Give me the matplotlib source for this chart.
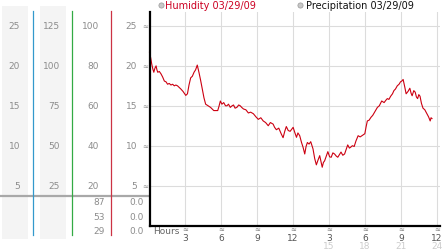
import matplotlib
matplotlib.use("Agg")
import matplotlib.pyplot as plt
from matplotlib import transforms

# ---- data (humidity trace, hours since midnight) ----
hours = [0.00, 0.10, 0.19, 0.28, 0.36, 0.45, 0.55, 0.62, 0.69, 0.82, 0.96, 1.10, 1.24,
         1.38, 1.51, 1.65, 1.79, 1.93, 2.07, 2.20, 2.34, 2.48, 2.62, 2.80, 3.03, 3.17,
         3.30, 3.44, 3.58, 3.72, 3.85, 3.99, 4.13, 4.27, 4.41, 4.55, 4.69, 4.90, 5.10,
         5.37, 5.55, 5.70, 5.80, 5.92, 6.05, 6.20, 6.35, 6.47, 6.60, 6.75, 6.90, 7.02,
         7.15, 7.30, 7.45, 7.58, 7.70, 7.85, 8.05, 8.26, 8.45, 8.68, 8.90, 9.09, 9.30,
         9.50, 9.70, 9.92, 10.10, 10.33, 10.45, 10.60, 10.80, 11.00, 11.16, 11.30, 11.43,
         11.59, 11.75, 12.00, 12.15, 12.28, 12.40, 12.55, 12.70, 12.83, 12.97, 13.08,
         13.19, 13.33, 13.47, 13.66, 13.80, 13.94, 14.08, 14.22, 14.43, 14.53, 14.63,
         14.77, 14.90, 15.05, 15.18, 15.32, 15.46, 15.60, 15.73, 15.87, 16.00, 16.15,
         16.30, 16.45, 16.56, 16.70, 16.80, 16.95, 17.10, 17.25, 17.43, 17.60, 17.80,
         17.99, 18.10, 18.20, 18.35, 18.50, 18.65, 18.77, 18.90, 19.04, 19.20, 19.40,
         19.60, 19.75, 19.87, 20.00, 20.15, 20.30, 20.42, 20.55, 20.70, 20.85, 20.97,
         21.08, 21.19, 21.32, 21.44, 21.60, 21.75, 21.85, 21.94, 22.08, 22.20, 22.30,
         22.40, 22.50, 22.60, 22.72, 22.85, 23.00, 23.18, 23.32, 23.45, 23.52, 23.60]
humidity = [21.7, 21.0, 20.2, 19.6, 19.2, 19.7, 20.0, 19.5, 19.2, 19.3, 19.0, 18.6, 18.1,
            18.0, 17.7, 17.8, 17.6, 17.7, 17.5, 17.6, 17.5, 17.3, 17.1, 16.8, 16.3, 16.5,
            17.6, 18.5, 18.7, 19.2, 19.5, 20.1, 19.2, 18.2, 17.1, 16.0, 15.2, 15.0, 14.8,
            14.4, 14.4, 14.4, 14.9, 15.6, 15.2, 15.4, 15.0, 15.0, 15.2, 14.8, 15.0, 15.1,
            14.7, 14.8, 15.1, 15.0, 14.8, 14.6, 14.5, 14.1, 14.2, 14.0, 13.6, 13.3, 13.5,
            13.1, 12.9, 12.5, 12.9, 12.7, 12.3, 12.0, 12.2, 11.5, 11.0, 11.8, 12.4,
            11.9, 11.8, 12.3, 11.6, 11.05, 11.6, 11.25, 10.4, 9.8, 8.96, 9.9,
            10.4, 10.2, 10.5, 9.6, 8.4, 7.6, 8.2, 8.75, 7.3, 7.9, 8.1,
            8.7, 9.25, 8.6, 8.55, 9.1, 8.96, 8.7, 8.55, 8.9, 9.2, 8.8,
            8.96, 9.6, 10.1, 9.7, 9.8, 10.0, 9.9, 10.6, 11.25, 11.1, 11.3,
            11.5, 12.4, 13.1, 13.2, 13.55, 13.8, 14.1, 14.4, 14.8, 15.0, 15.6,
            15.4, 15.7, 15.9, 15.8, 16.2, 16.5, 16.9, 17.1, 17.5, 17.7, 18.0,
            18.1, 18.3, 17.4, 16.5, 16.8, 17.2, 16.6, 16.25, 16.9, 16.7, 16.1,
            15.9, 16.4, 16.2, 15.3, 14.7, 14.5, 14.0, 13.6, 13.1, 13.5, 13.4]

# left-hand scale panel: four columns of axis labels
col_temp = [25, 20, 15, 10, 5]
col_dew = [125, 100, 75, 50, 25]
col_hum = [100, 80, 60, 40, 20]
col_main = [25, 20, 15, 10, 5]
hum_rows = ["87", "53", "29"]
precip_rows = ["0.0", "0.0", "0.0"]

x_ticks = [3, 6, 9, 12, 15, 18, 21, 24]
x_labels = ["3", "6", "9", "12", "3", "6", "9", "12"]
x_labels_24 = ["", "", "", "", "15", "18", "21", "24"]

LABEL = "#8c8c8c"
GRID = "#dcdcdc"
LINE_RED = "#cc0011"

W, H = 442, 253
fig = plt.figure(figsize=(W / 100, H / 100), dpi=100)

# overlay in pixel coordinates for the panel furniture
ov = fig.add_axes([0, 0, 1, 1], zorder=0)
ov.set_xlim(0, W)
ov.set_ylim(H, 0)
ov.axis("off")

ax = fig.add_axes([149.5 / W, (H - 226.5) / H, (440 - 149.5) / W, (226.5 - 13) / H],
                  zorder=1)
ax.set_facecolor("none")
ax.set_xlim(0, 24.27)
ax.set_ylim(0, 26.75)
for s in ("top", "right"):
    ax.spines[s].set_visible(False)
for s in ("left", "bottom"):
    ax.spines[s].set_color("black")
    ax.spines[s].set_linewidth(1.6)
ax.set_xticks(x_ticks)
ax.set_yticks(col_main)
ax.tick_params(length=0, labelleft=False, labelbottom=False)
ax.grid(True, color=GRID, lw=0.8)
ax.set_axisbelow(True)

ax.plot(hours, humidity, color=LINE_RED, lw=0.8, clip_on=False)

# panel backgrounds and separators
ov.axvspan(2, 28, ymin=(H - 240) / H, ymax=(H - 7) / H, color="#f4f4f4", lw=0)
ov.axvspan(40, 66, ymin=(H - 240) / H, ymax=(H - 7) / H, color="#f4f4f4", lw=0)
ov.plot([0, 149], [197, 197], color="#a8a8a8", lw=1.6)
for xv, c in [(33, "#3399cc"), (72, "#33aa44"), (111, "#cc3344")]:
    ov.plot([xv, xv], [12, 236], color=c, lw=0.9)

# y labels aligned to the main axes' value scale
ty = transforms.blended_transform_factory(ov.transData, ax.transData)
fs = 6.5
for v, a, b, c in zip(col_main, col_temp, col_dew, col_hum):
    ov.text(20, v, str(a), transform=ty, ha="right", va="center", fontsize=fs, color=LABEL)
    ov.text(60, v, str(b), transform=ty, ha="right", va="center", fontsize=fs, color=LABEL)
    ov.text(99, v, str(c), transform=ty, ha="right", va="center", fontsize=fs, color=LABEL)
    ov.text(137, v, str(v), transform=ty, ha="right", va="center", fontsize=fs, color=LABEL)
    ov.text(145.5, v, "\u2248", transform=ty, ha="center", va="center", fontsize=5,
            color="#888888")

for yv, h, p in zip([203, 218, 232], hum_rows, precip_rows):
    ov.text(105, yv, h, ha="right", va="center", fontsize=fs, color=LABEL)
    ov.text(144, yv, p, ha="right", va="center", fontsize=fs, color=LABEL)

# hour labels under the axis
tx = transforms.blended_transform_factory(ax.transData, ov.transData)
ov.text(153, 232, "Hours", ha="left", va="center", fontsize=fs, color="#666666")
for t, lab, lab24 in zip(x_ticks, x_labels, x_labels_24):
    ov.text(t, 230, "\u2248", transform=tx, ha="center", va="center", fontsize=5,
            color="#777777")
    ov.text(t, 238.5, lab, transform=tx, ha="center", va="center", fontsize=fs,
            color="#555555")
    if lab24:
        ov.text(t, 247, lab24, transform=tx, ha="center", va="center", fontsize=fs,
                color="#cccccc")

# legend row
ov.scatter([161, 300], [6, 6], s=14, color="#c8c8c8", edgecolors="#999999", linewidths=0.5)
ov.text(165, 6, "Humidity 03/29/09", ha="left", va="center", fontsize=7, color="#cc0022")
ov.text(306, 6, "Precipitation 03/29/09", ha="left", va="center", fontsize=7,
        color="#111111")

fig.savefig("out.png", dpi=100)
